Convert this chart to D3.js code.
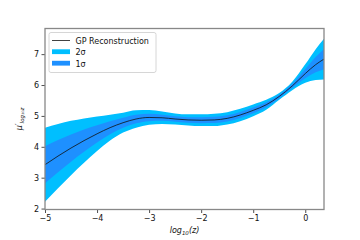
<!DOCTYPE html>
<html>
<head>
<meta charset="utf-8">
<script src="https://cdn.jsdelivr.net/npm/d3@7"></script>
<style>
  body { margin: 0; background: #fff; }
  svg { font-family: "DejaVu Sans", sans-serif; }
</style>
</head>
<body>
<svg id="chart" width="360" height="240"></svg>
<script>
// values
var logz  = [-5, -4.75, -4.5, -4.25, -4, -3.75, -3.5, -3.25, -3, -2.75, -2.5, -2.25, -2, -1.75, -1.5, -1.25, -1, -0.75, -0.5, -0.25, 0, 0.2, 0.36];
var mu    = [3.42, 3.7, 3.96, 4.2, 4.42, 4.62, 4.78, 4.9, 4.95, 4.94, 4.9, 4.87, 4.86, 4.87, 4.92, 5.03, 5.18, 5.36, 5.63, 5.97, 6.37, 6.66, 6.84];
var sigma = [0.6, 0.52, 0.44, 0.36, 0.28, 0.21, 0.16, 0.14, 0.12, 0.1, 0.09, 0.09, 0.095, 0.1, 0.1, 0.1, 0.095, 0.08, 0.055, 0.07, 0.15, 0.25, 0.33];
var xticks = [-5, -4, -3, -2, -1, 0];
var yticks = [2, 3, 4, 5, 6, 7];

var svg = d3.select("#chart");
var m = {left: 45, right: 324, top: 28.5, bottom: 209.5};

var x = d3.scaleLinear().domain([-5, 0.36]).range([m.left, m.right]);
var y = d3.scaleLinear().domain([1.97, 7.83]).range([m.bottom, m.top]);

var data = logz.map(function(d, i){ return {x: d, m: mu[i], s: sigma[i]}; });

svg.append("clipPath").attr("id", "clip").append("rect")
  .attr("x", m.left).attr("y", m.top).attr("width", m.right - m.left).attr("height", m.bottom - m.top);

var plot = svg.append("g").attr("clip-path", "url(#clip)");

function band(k){
  return d3.area().curve(d3.curveMonotoneX)
    .x(function(d){ return x(d.x); })
    .y0(function(d){ return y(d.m - k * d.s); })
    .y1(function(d){ return y(d.m + k * d.s); });
}

plot.append("path").datum(data).attr("d", band(2)).attr("fill", "#00bfff");
plot.append("path").datum(data).attr("d", band(1)).attr("fill", "#1e90ff");
plot.append("path").datum(data)
  .attr("d", d3.line().curve(d3.curveMonotoneX).x(function(d){ return x(d.x); }).y(function(d){ return y(d.m); }))
  .attr("fill", "none").attr("stroke", "#111").attr("stroke-width", 0.8);

// axes
var fmt = function(d){ return d < 0 ? "\u2212" + Math.abs(d) : String(d); };
var xAxis = svg.append("g").attr("transform", "translate(0," + m.bottom + ")")
  .call(d3.axisBottom(x).tickValues(xticks).tickFormat(fmt).tickSize(3.5).tickPadding(2.5));
var yAxis = svg.append("g").attr("transform", "translate(" + m.left + ",0)")
  .call(d3.axisLeft(y).tickValues(yticks).tickFormat(fmt).tickSize(3.5).tickPadding(2.5));
[xAxis, yAxis].forEach(function(a){
  a.select(".domain").remove();
  a.selectAll("line").attr("stroke", "#222").attr("stroke-width", 0.8);
  a.selectAll("text").attr("font-size", 8).attr("fill", "#111").attr("font-family", "DejaVu Sans");
});

svg.append("rect").attr("x", m.left).attr("y", m.top)
  .attr("width", m.right - m.left).attr("height", m.bottom - m.top)
  .attr("fill", "none").attr("stroke", "#888").attr("stroke-width", 1.3);

// labels
var xl = svg.append("text").attr("x", (m.left + m.right) / 2).attr("y", 233)
  .attr("text-anchor", "middle").attr("font-size", 8).attr("font-style", "italic").attr("fill", "#111");
xl.append("tspan").text("log");
xl.append("tspan").attr("font-size", 5.5).attr("dy", 2).text("10");
xl.append("tspan").attr("dy", -2).text("(z)");

var yl = svg.append("text").attr("transform", "translate(22," + ((m.top + m.bottom) / 2) + ") rotate(-90)")
  .attr("text-anchor", "middle").attr("font-size", 8).attr("font-style", "italic").attr("fill", "#111");
yl.append("tspan").text("\u03bc\u2032");
yl.append("tspan").attr("font-size", 5.5).attr("dy", 2).text("log\u2081\u2080z");

// legend
var lg = svg.append("g");
lg.append("rect").attr("x", 49).attr("y", 32.5).attr("width", 107).attr("height", 40).attr("rx", 2)
  .attr("fill", "#fff").attr("fill-opacity", 0.8).attr("stroke", "#ccc").attr("stroke-width", 0.8);
lg.append("line").attr("x1", 52).attr("x2", 70).attr("y1", 40.5).attr("y2", 40.5)
  .attr("stroke", "#111").attr("stroke-width", 0.8);
lg.append("rect").attr("x", 52).attr("y", 49.3).attr("width", 18).attr("height", 4.8).attr("fill", "#00bfff");
lg.append("rect").attr("x", 52).attr("y", 60.8).attr("width", 18).attr("height", 4.8).attr("fill", "#1e90ff");
var labels = [["GP Reconstruction", 43.5], ["2\u03c3", 55], ["1\u03c3", 66.5]];
labels.forEach(function(l){
  lg.append("text").attr("x", 75.5).attr("y", l[1]).attr("font-size", 8).attr("fill", "#111").text(l[0]);
});
</script>
</body>
</html>
